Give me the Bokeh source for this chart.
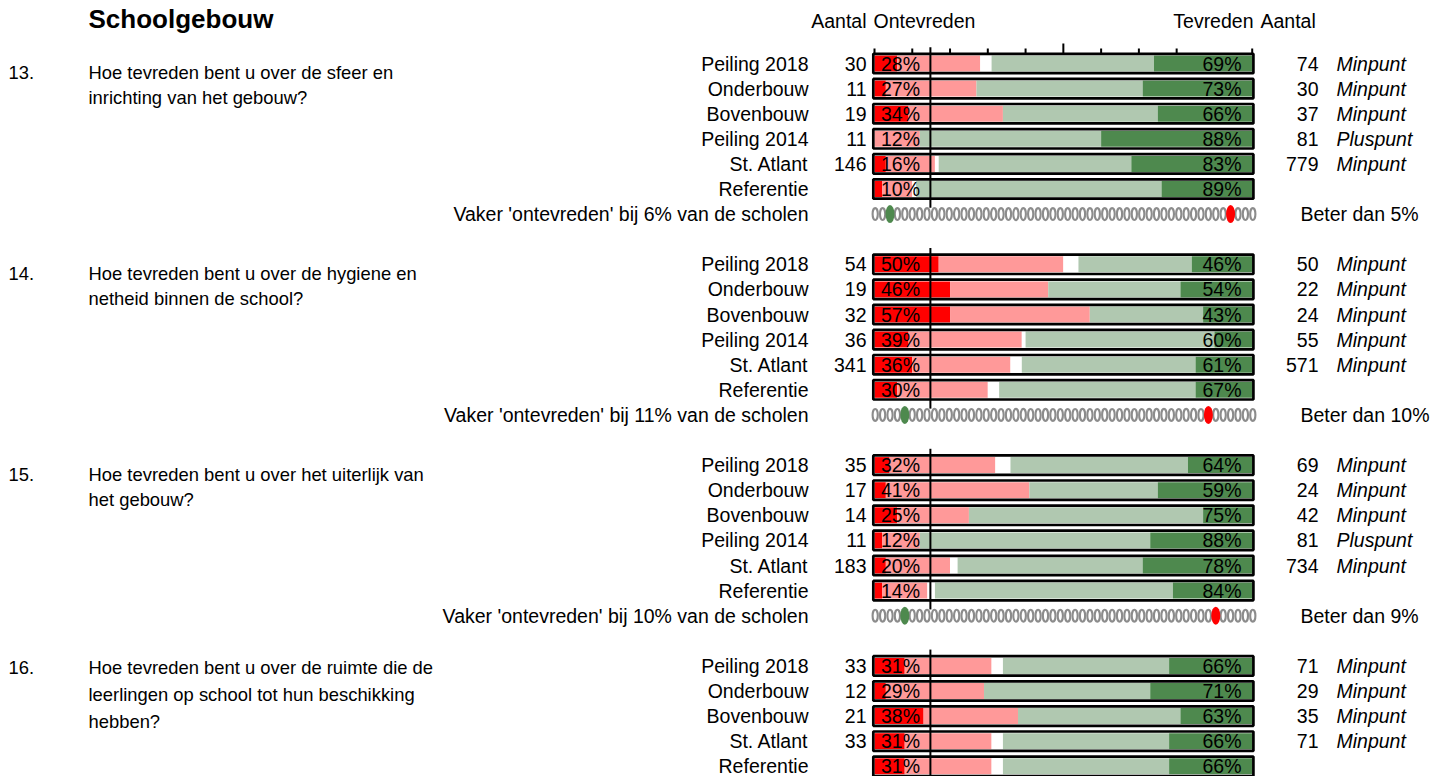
import numpy as np
from bokeh.plotting import figure
from bokeh.models import ColumnDataSource, Range1d
from bokeh.core.properties import value
from bokeh.embed import file_html
from bokeh.resources import INLINE

# ---------------- data ----------------
title = "Schoolgebouw"
header_left = ["Aantal", "Ontevreden"]
header_right = ["Tevreden", "Aantal"]

question_numbers = ["13.", "14.", "15.", "16."]
question_lines = [
    ["Hoe tevreden bent u over de sfeer en", "inrichting van het gebouw?"],
    ["Hoe tevreden bent u over de hygiene en", "netheid binnen de school?"],
    ["Hoe tevreden bent u over het uiterlijk van", "het gebouw?"],
    ["Hoe tevreden bent u over de ruimte die de",
     "leerlingen op school tot hun beschikking", "hebben?"],
]
row_labels = [
    ["Peiling 2018", "Onderbouw", "Bovenbouw", "Peiling 2014", "St. Atlant", "Referentie"],
    ["Peiling 2018", "Onderbouw", "Bovenbouw", "Peiling 2014", "St. Atlant", "Referentie"],
    ["Peiling 2018", "Onderbouw", "Bovenbouw", "Peiling 2014", "St. Atlant", "Referentie"],
    ["Peiling 2018", "Onderbouw", "Bovenbouw", "St. Atlant", "Referentie"],
]
aantal_ontevreden = [
    ["30", "11", "19", "11", "146", ""],
    ["54", "19", "32", "36", "341", ""],
    ["35", "17", "14", "11", "183", ""],
    ["33", "12", "21", "33", ""],
]
zeer_ontevreden = [
    [6, 3, 9, 0, 3, 2],
    [17, 20, 20, 9, 10, 6],
    [4, 3, 6, 2, 3, 2],
    [8, 3, 13, 8, 8],
]
ontevreden = [
    [22, 24, 25, 12, 13, 8],
    [33, 26, 37, 30, 26, 24],
    [28, 38, 19, 10, 17, 12],
    [23, 26, 25, 23, 23],
]
neutraal = [
    [3, 0, 0, 0, 1, 1],
    [4, 0, 0, 1, 3, 3],
    [4, 0, 0, 0, 2, 2],
    [3, 0, 0, 3, 3],
]
tevreden = [
    [43, 44, 41, 48, 51, 65],
    [30, 35, 30, 50, 46, 52],
    [47, 34, 62, 61, 49, 63],
    [44, 44, 43, 44, 44],
]
zeer_tevreden = [
    [26, 29, 25, 40, 32, 24],
    [16, 19, 13, 10, 15, 15],
    [17, 25, 13, 27, 29, 21],
    [22, 27, 19, 22, 22],
]
pct_ontevreden = [
    [28, 27, 34, 12, 16, 10],
    [50, 46, 57, 39, 36, 30],
    [32, 41, 25, 12, 20, 14],
    [31, 29, 38, 31, 31],
]
pct_tevreden = [
    [69, 73, 66, 88, 83, 89],
    [46, 54, 43, 60, 61, 67],
    [64, 59, 75, 88, 78, 84],
    [66, 71, 63, 66, 66],
]
aantal_tevreden = [
    ["74", "30", "37", "81", "779", ""],
    ["50", "22", "24", "55", "571", ""],
    ["69", "24", "42", "81", "734", ""],
    ["71", "29", "35", "71", ""],
]
oordeel = [
    ["Minpunt", "Minpunt", "Minpunt", "Pluspunt", "Minpunt", ""],
    ["Minpunt", "Minpunt", "Minpunt", "Minpunt", "Minpunt", ""],
    ["Minpunt", "Minpunt", "Minpunt", "Pluspunt", "Minpunt", ""],
    ["Minpunt", "Minpunt", "Minpunt", "Minpunt", ""],
]
vaker_ontevreden_pct = [6, 11, 10]
beter_dan_pct = [5, 10, 9]
green_dot_index = [2, 4, 4]
red_dot_index = [48, 45, 46]
n_dots = 52
tick_values = [0, 10, 20, 30, 40, 60, 70, 80, 100]
major_tick_values = [50]
divider_pct = 14.8

# ---------------- layout helpers ----------------
W, H = 1433, 776
PX = 3.777       # pixels per percent
X0 = 874         # page x of 0 %
ROW = 25.1       # pixels per row
Y0 = 63          # page y of first row
GROUP_ROWS = 8
Q_OFFSET = [0.36, 0.36, 0.36, 0.08]   # first question line, in rows
Q_LINE = [1.0, 1.0, 1.0, 1.07]


def xd(X):
    return (X - X0) / PX


def yd(Y):
    return (Y - Y0) / ROW


FONT = value("Liberation Sans")
FS = value("19.5px")
TY = 0.0

p = figure(width=W, height=H, output_backend="svg", toolbar_location=None,
           x_range=Range1d(xd(0), xd(W)), y_range=Range1d(yd(H), yd(0)),
           min_border=0, x_axis_location=None, y_axis_location=None)
p.outline_line_color = None
p.xgrid.visible = False
p.ygrid.visible = False
p.background_fill_color = "white"


def txt(xs, ys, texts, align="left", size=FS, style="normal", color="black"):
    p.text(x=xs, y=ys, text=texts, text_font=FONT, text_font_size=size,
           text_align=align, text_baseline="middle", text_font_style=style,
           text_color=color)


# title + headers
txt([xd(88)], [yd(18)], [title], size=value("26px"), style="bold")
txt([xd(866)], [yd(20)], [header_left[0]], align="right")
txt([xd(873)], [yd(20)], [header_left[1]])
txt([xd(1253)], [yd(20)], [header_right[0]], align="right")
txt([xd(1260)], [yd(20)], [header_right[1]])

# bars
ys, zo, o, n, t, zt = [], [], [], [], [], []
lab, a_l, a_r, po, pt, oo = [], [], [], [], [], []
for g in range(len(row_labels)):
    for r in range(len(row_labels[g])):
        ys.append(g * GROUP_ROWS + r)
        zo.append(zeer_ontevreden[g][r])
        o.append(ontevreden[g][r])
        n.append(neutraal[g][r])
        t.append(tevreden[g][r])
        zt.append(zeer_tevreden[g][r])
        lab.append(row_labels[g][r])
        a_l.append(aantal_ontevreden[g][r])
        a_r.append(aantal_tevreden[g][r])
        po.append(f"{pct_ontevreden[g][r]}%")
        pt.append(f"{pct_tevreden[g][r]}%")
        oo.append(oordeel[g][r])

src = ColumnDataSource(dict(y=ys, zo=zo, o=o, n=n, t=t, zt=zt))
p.hbar_stack(["zo", "o", "n", "t", "zt"], y="y", height=16 / ROW, source=src,
             color=["#FF0000", "#FF9999", "#FFFFFF", "#B0C8B0", "#4E894E"],
             line_color=None)
p.rect(x=[50] * len(ys), y=ys, width=380.1 / PX, height=19.4 / ROW,
       fill_color=None, line_color="black", line_width=2.7)

ty = [y + TY for y in ys]
txt([xd(808)] * len(ys), ty, lab, align="right")
txt([xd(866)] * len(ys), ty, a_l, align="right")
txt([xd(919.5)] * len(ys), ty, po, align="right")
txt([xd(1241)] * len(ys), ty, pt, align="right")
txt([xd(1318)] * len(ys), ty, a_r, align="right")
txt([xd(1336)] * len(ys), ty, oo, style="italic")

# questions
for g in range(len(question_numbers)):
    base = g * GROUP_ROWS + Q_OFFSET[g]
    txt([xd(8)], [base], [question_numbers[g]], size=value("18.4px"))
    txt([xd(88)] * len(question_lines[g]),
        [base + i * Q_LINE[g] for i in range(len(question_lines[g]))],
        question_lines[g], size=value("18.4px"))

# divider lines
for g in range(len(row_labels)):
    p.segment(x0=[divider_pct], y0=[g * GROUP_ROWS - 0.65], x1=[divider_pct],
              y1=[g * GROUP_ROWS + 5.75], line_color="black", line_width=2)

# ticks on top of first group
box_top = -19.4 / ROW / 2
p.segment(x0=tick_values, x1=tick_values, y0=[box_top] * len(tick_values),
          y1=[box_top - 5.3 / ROW] * len(tick_values), line_color="black", line_width=2)
p.segment(x0=major_tick_values, x1=major_tick_values, y0=[box_top],
          y1=[box_top - 10.3 / ROW], line_color="black", line_width=2)

# dots rows
dot_x = np.linspace(xd(874.7), xd(1252.3), n_dots)
for g in range(len(vaker_ontevreden_pct)):
    yrow = g * GROUP_ROWS + 6
    gi, ri = green_dot_index[g], red_dot_index[g]
    gray_x = [dot_x[i] for i in range(n_dots) if i not in (gi, ri)]
    p.ellipse(x=gray_x, y=[yrow] * len(gray_x), width=5.2, height=12,
              width_units="screen", height_units="screen", fill_color=None,
              line_color="#8C8C8C", line_width=2.1)
    p.ellipse(x=[dot_x[gi]], y=[yrow], width=9, height=18, width_units="screen",
              height_units="screen", fill_color="#4E894E", line_color=None)
    p.ellipse(x=[dot_x[ri]], y=[yrow], width=9, height=18, width_units="screen",
              height_units="screen", fill_color="#FF0000", line_color=None)
    txt([xd(808)], [yrow + TY], [f"Vaker 'ontevreden' bij {vaker_ontevreden_pct[g]}% van de scholen"],
        align="right")
    txt([xd(1300)], [yrow + TY], [f"Beter dan {beter_dan_pct[g]}%"])

open("out.html", "w").write(file_html(p, INLINE))
